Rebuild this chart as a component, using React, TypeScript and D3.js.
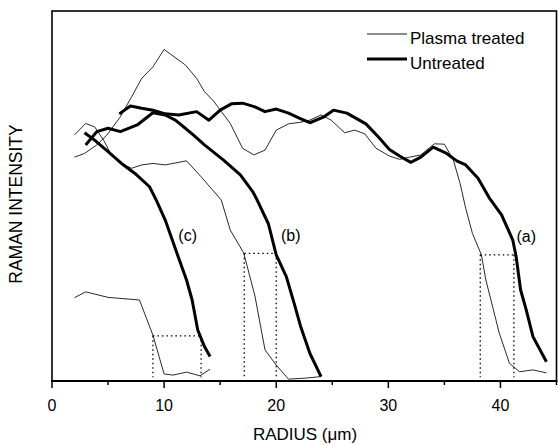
import React from 'react';
import * as d3 from 'd3';

// ---- Data (radius in µm, Raman intensity in arbitrary units 0-100) ----
const plasmaA: [number, number][] = [
  [2.0, 60.5], [2.9, 61.5], [4.0, 63.8], [4.9, 66.5], [6.1, 71.4], [7.1, 76.8], [8.0, 81.8],
  [9.0, 84.9], [10.0, 89.6], [11.9, 85.4], [12.9, 81.8], [13.6, 78.2], [14.4, 75.7],
  [15.9, 69.6], [17.0, 62.9], [18.0, 61.1], [19.0, 62.4], [20.0, 67.8], [21.1, 69.5],
  [22.1, 69.9], [23.0, 70.5], [24.0, 71.9], [24.9, 70.5], [26.1, 67.1], [27.0, 67.8],
  [27.9, 66.8], [28.9, 62.9], [30.1, 60.8], [31.0, 59.9], [31.9, 60.5], [32.9, 61.1],
  [34.1, 64.1], [35.0, 64.0], [35.8, 59.7], [36.4, 53.4], [36.9, 46.7], [37.5, 39.9],
  [38.3, 34.1], [38.7, 27.3], [39.9, 12.9], [40.8, 4.8], [41.7, 2.5], [42.9, 3.0], [44.1, 2.2],
];

const untreatedA: [number, number][] = [
  [6.0, 72.2], [7.0, 74.3], [8.0, 73.7], [9.0, 73.2], [10.1, 72.2], [11.3, 71.9], [12.9, 72.8],
  [14.0, 70.5], [15.0, 73.2], [16.0, 74.9], [17.0, 75.1], [18.1, 74.1], [19.0, 72.8],
  [20.0, 73.5], [21.1, 72.4], [22.1, 71.0], [23.0, 69.8], [24.2, 71.3], [25.1, 73.2],
  [26.3, 72.4], [28.0, 69.5], [29.1, 66.0], [30.1, 62.6], [31.0, 60.8], [32.0, 59.1],
  [32.9, 60.5], [34.0, 63.2], [35.2, 61.5], [36.1, 59.5], [36.9, 58.4], [38.0, 54.8],
  [39.0, 49.5], [40.1, 44.9], [41.1, 38.1], [41.4, 33.6], [41.8, 24.6], [42.3, 19.2],
  [42.9, 12.0], [44.1, 5.2],
];

const plasmaB: [number, number][] = [
  [2.0, 66.5], [3.0, 69.6], [3.8, 68.7], [4.6, 65.1], [5.3, 61.1], [6.1, 58.8], [7.1, 57.5],
  [8.0, 58.4], [9.0, 58.8], [10.1, 58.4], [12.0, 59.5], [13.3, 55.2], [15.1, 48.9],
  [15.9, 40.8], [17.1, 34.6], [18.1, 23.0], [19.0, 8.4], [20.0, 4.3], [21.1, 0.5],
  [22.7, 0.8], [24.0, 1.2],
];

const untreatedB: [number, number][] = [
  [3.0, 63.8], [4.0, 67.4], [5.0, 68.3], [6.1, 67.4], [7.6, 69.2], [9.0, 72.5], [10.1, 71.9],
  [11.0, 70.5], [11.9, 68.3], [12.6, 66.5], [13.6, 63.8], [15.3, 59.7], [16.8, 55.7],
  [17.9, 51.2], [18.3, 48.9], [19.3, 42.5], [20.0, 34.1], [20.9, 28.2], [21.6, 21.0],
  [22.2, 14.5], [23.0, 7.5], [24.0, 1.2],
];

const plasmaC: [number, number][] = [
  [2.0, 22.5], [3.0, 24.1], [5.0, 22.6], [7.8, 21.9], [9.0, 12.4], [10.0, 1.9], [10.8, 1.6],
  [12.0, 2.4], [13.2, 1.4], [14.1, 3.2],
];

const untreatedC: [number, number][] = [
  [2.9, 67.1], [3.8, 65.1], [5.0, 62.0], [6.2, 58.8], [7.4, 56.1], [8.7, 52.5], [9.3, 48.9],
  [10.1, 43.5], [11.1, 34.9], [12.0, 27.3], [12.5, 21.9], [13.0, 13.8], [13.6, 9.3], [14.1, 6.6],
];

// dotted half-width markers: [x plasma, x untreated, level]
const markers: [number, number, number][] = [
  [9.0, 13.3, 12.2],
  [17.15, 20.0, 34.5],
  [38.2, 41.2, 34.1],
];

const curveLabels: { text: string; x: number; y: number }[] = [
  { text: '(c)', x: 12.1, y: 37.9 },
  { text: '(b)', x: 21.3, y: 37.9 },
  { text: '(a)', x: 42.3, y: 37.6 },
];

const majorTicks = [0, 10, 20, 30, 40];
const minorTicks = [5, 15, 25, 35, 45];
const legendItems = ['Plasma treated', 'Untreated'];

const W = 558;
const H = 445;
const FONT = 'Arial, "Liberation Sans", Helvetica, sans-serif';

export default function App() {
  const x = d3.scaleLinear().domain([0, 45]).range([52, 556.5]);
  const y = d3.scaleLinear().domain([0, 100]).range([381, 11]);
  const line = d3
    .line<[number, number]>()
    .x((d) => x(d[0]))
    .y((d) => y(d[1]));

  const thin = [plasmaA, plasmaB, plasmaC];
  const thick = [untreatedA, untreatedB, untreatedC];

  return (
    <svg
      width={W}
      height={H}
      viewBox={`0 0 ${W} ${H}`}
      style={{ position: 'absolute', left: 0, top: 0, display: 'block', background: '#fff' }}
      fontFamily={FONT}
    >
      <rect x={0} y={0} width={W} height={H} fill="#fff" />
      {/* frame */}
      <rect
        x={x(0)}
        y={y(100)}
        width={x(45) - x(0)}
        height={y(0) - y(100)}
        fill="none"
        stroke="#000"
        strokeWidth={1.6}
      />
      <line x1={x(0) - 1} x2={x(45) + 0.8} y1={y(0)} y2={y(0)} stroke="#000" strokeWidth={2.2} />

      {/* ticks */}
      {majorTicks.map((t) => (
        <g key={'M' + t}>
          <line x1={x(t)} x2={x(t)} y1={y(0)} y2={y(0) + 7} stroke="#000" strokeWidth={1.5} />
          <text x={x(t)} y={411} textAnchor="middle" fontSize={16}>
            {t}
          </text>
        </g>
      ))}
      {minorTicks.map((t) => (
        <line key={'m' + t} x1={x(t)} x2={x(t)} y1={y(0)} y2={y(0) + 4} stroke="#000" strokeWidth={1.5} />
      ))}

      {/* axis titles */}
      <text x={305} y={440} textAnchor="middle" fontSize={17}>
        RADIUS (μm)
      </text>
      <text
        transform={`translate(22,204) rotate(-90)`}
        textAnchor="middle"
        fontSize={17.5}
      >
        RAMAN INTENSITY
      </text>

      {/* dotted markers */}
      {markers.map(([a, b, lv], i) => (
        <g key={'d' + i} stroke="#000" strokeWidth={1.3} strokeDasharray="1.5 3" fill="none">
          <line x1={x(a)} x2={x(b)} y1={y(lv)} y2={y(lv)} />
          <line x1={x(a)} x2={x(a)} y1={y(lv)} y2={y(1)} />
          <line x1={x(b)} x2={x(b)} y1={y(lv)} y2={y(1)} />
        </g>
      ))}

      {/* curves */}
      {thin.map((d, i) => (
        <path key={'t' + i} d={line(d) || ''} fill="none" stroke="#111" strokeWidth={0.9} strokeLinejoin="round" />
      ))}
      {thick.map((d, i) => (
        <path key={'k' + i} d={line(d) || ''} fill="none" stroke="#000" strokeWidth={3} strokeLinejoin="round" />
      ))}

      {/* curve labels */}
      {curveLabels.map((l) => (
        <text key={l.text} x={x(l.x)} y={y(l.y)} textAnchor="middle" fontSize={16}>
          {l.text}
        </text>
      ))}

      {/* legend */}
      {legendItems.map((name, i) => (
        <g key={name}>
          <line
            x1={367}
            x2={407}
            y1={34 + i * 25}
            y2={34 + i * 25}
            stroke="#000"
            strokeWidth={i === 0 ? 0.9 : 3}
          />
          <text x={410} y={44 + i * 25} fontSize={17}>
            {name}
          </text>
        </g>
      ))}
    </svg>
  );
}
